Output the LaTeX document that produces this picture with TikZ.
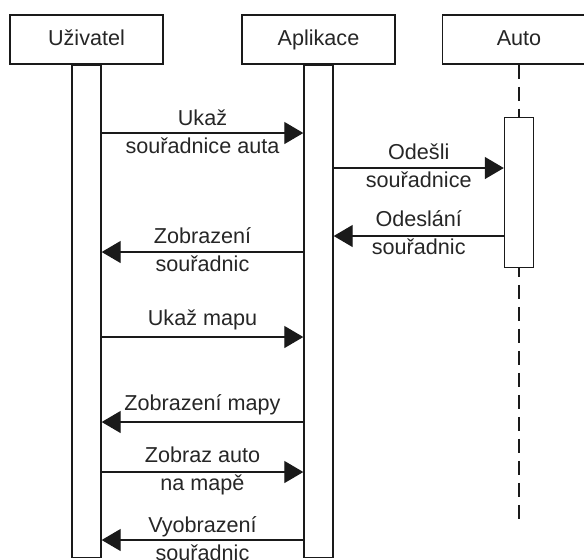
\documentclass[tikz,border=0pt]{standalone}
\usepackage{fontspec}
\setmainfont{Liberation Sans}
\usetikzlibrary{arrows.meta, positioning}
\definecolor{SeqLine}{HTML}{1A1A1A}
\definecolor{SeqText}{HTML}{262626}
\tikzset{
    % Participant boxes
    actor/.style={
        rectangle,
        draw=SeqLine,
        fill=white,
        line width=0.75pt,
        minimum width=76.5pt,
        minimum height=24.5pt,
        inner sep=0pt,
        text height=7.8pt,
        text depth=2.2pt,
        text=SeqText,
        font=\fontsize{10.8}{14}\selectfont
    },
    % Activation bars
    bar/.style={
        rectangle,
        draw=SeqLine,
        fill=white,
        line width=0.7pt,
        minimum width=14.5pt,
        inner sep=0pt,
        anchor=north
    },
    lifeline/.style={
        draw=SeqLine,
        line width=0.7pt,
        dash pattern=on 7pt off 4pt
    },
    % Messages
    msg/.style={
        -{Triangle[length=9.5pt, width=11pt]},
        line width=0.65pt,
        draw=SeqLine
    },
    msglabel/.style={
        align=center,
        inner sep=0pt,
        text=SeqText,
        font=\fontsize{10.8}{14}\selectfont
    }
}
\begin{document}
\begin{tikzpicture}[x=0.5pt, y=-0.5pt]
    \useasboundingbox (0,0) rectangle (584,559);
    \clip (0,0) rectangle (584,559);

    % Participants
    \node[actor] (user) at (86.5,39.5) {Uživatel};
    \node[actor] (app) at (318.5,39.5) {Aplikace};
    \node[actor] (car) at (519,39.5) {Auto};

    % Lifeline of Auto
    \coordinate (carEnd) at (519,523);
    \draw[lifeline] (car.south) -- (carEnd);

    % Activation bars
    \node[bar, minimum height=246pt] (userBar) at (user.south) {};
    \node[bar, minimum height=246pt] (appBar) at (app.south) {};
    \node[bar, minimum height=75pt] (carBar) at (519,117) {};

    % Message heights
    \coordinate (m1) at (0,133);
    \coordinate (m2) at (0,168);
    \coordinate (m3) at (0,236);
    \coordinate (m4) at (0,252);
    \coordinate (m5) at (0,337);
    \coordinate (m6) at (0,422);
    \coordinate (m7) at (0,472);
    \coordinate (m8) at (0,540);

    % Messages
    \draw[msg] (userBar.east |- m1) -- (appBar.west |- m1)
        node[msglabel, midway, yshift=0.5pt] (l1) {Ukaž\\souřadnice auta};
    \draw[msg] (appBar.east |- m2) -- (carBar.west |- m2)
        node[msglabel, midway, yshift=1pt] (l2) {Odešli\\souřadnice};
    \draw[msg] (carBar.west |- m3) -- (appBar.east |- m3)
        node[msglabel, midway, yshift=1.5pt] (l3) {Odeslání\\souřadnic};
    \draw[msg] (appBar.west |- m4) -- (userBar.east |- m4)
        node[msglabel, midway, yshift=1pt] (l4) {Zobrazení\\souřadnic};
    \draw[msg] (userBar.east |- m5) -- (appBar.west |- m5)
        node[msglabel, midway, above=3pt] (l5) {Ukaž mapu};
    \draw[msg] (appBar.west |- m6) -- (userBar.east |- m6)
        node[msglabel, midway, above=3pt] (l6) {Zobrazení mapy};
    \draw[msg] (userBar.east |- m7) -- (appBar.west |- m7)
        node[msglabel, midway, yshift=0.5pt] (l7) {Zobraz auto\\na mapě};
    \draw[msg] (appBar.west |- m8) -- (userBar.east |- m8)
        node[msglabel, midway, yshift=0.5pt] (l8) {Vyobrazení\\souřadnic};
\end{tikzpicture}
\end{document}
